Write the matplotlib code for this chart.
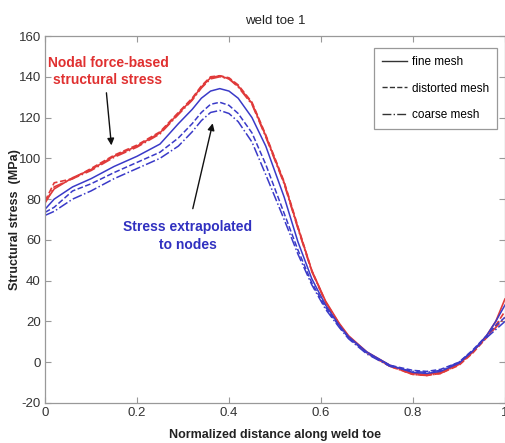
import matplotlib
matplotlib.use("Agg")
import matplotlib.pyplot as plt
from matplotlib.lines import Line2D

plt.rcParams['font.family'] = ['Liberation Sans', 'DejaVu Sans']
plt.rcParams['axes.unicode_minus'] = False

# normalized distance along weld toe
x = [0, 0.02, 0.06, 0.1, 0.15, 0.2, 0.25, 0.29, 0.32, 0.34, 0.36, 0.38, 0.4, 0.42,
     0.45, 0.48, 0.52, 0.55, 0.58, 0.61, 0.64, 0.66, 0.7, 0.75, 0.8, 0.83, 0.86,
     0.9, 0.93, 0.96, 0.98, 1.0]

# nodal force-based structural stress (MPa)
red_fine = [78.5, 85, 90.5, 94.5, 101, 106, 112.5, 122, 129, 135, 139.5, 140.5, 139, 135.5,
            127, 111, 88, 66, 45, 30, 19, 13, 5, -1.5, -5.5, -6, -5,
            -1, 5, 13, 20, 31]
red_distorted = [79, 88, 90, 95, 101.5, 106.5, 113, 122.5, 129.5, 135.5, 140, 140.5, 139.5, 136,
                 127.5, 111.5, 88.5, 66.5, 45, 29.5, 18.5, 12.5, 4.5, -2, -6, -6.5, -5.5,
                 -1.5, 4.5, 12, 18, 25]
red_coarse = [78, 86, 90, 94, 100.5, 105.5, 112, 121.5, 128.5, 134.5, 139, 140, 139, 135,
              126.5, 110.5, 87.5, 65.5, 44.5, 29.5, 18.5, 12.5, 4.5, -2, -6, -6.5, -5.5,
              -1, 5, 12.5, 17, 22]

# stress extrapolated to nodes (MPa)
blue_fine = [75, 80, 86, 90, 96, 101, 107, 117, 124, 129.5, 133, 134.2, 133, 129.5,
             120, 106, 81, 59, 41, 28, 18, 12.5, 5, -1.5, -5, -5.5, -4.5,
             -0.5, 5.5, 13, 20, 28]
blue_distorted = [73.5, 76, 84, 87.5, 93, 98, 103, 110, 117, 122.5, 126.5, 127.5, 126, 122,
                  112.5, 97, 73, 55, 39, 27, 17.5, 12, 4.5, -1.5, -4, -4.5, -3.5,
                  0, 6, 13, 18, 22]
blue_coarse = [72, 74, 80, 84, 90, 95, 100, 106, 113, 118.5, 122.5, 123.5, 122, 118,
               108, 92, 70, 53, 38, 26, 17, 11.5, 4, -2, -4.5, -5, -4,
               0, 5.5, 12, 16, 20]

legend_labels = ['fine mesh', 'distorted mesh', 'coarse mesh']
styles = ['-', '--', '-.']

red = '#e03a3a'
blue = '#3a3ac8'

fig = plt.figure(figsize=(5.06, 4.43), dpi=100)
ax = fig.add_axes([0.0889, 0.0903, 0.909, 0.8284])

for ys, ls in zip([red_fine, red_distorted, red_coarse], styles):
    ax.plot(x, ys, color=red, ls=ls, lw=1.2)
for ys, ls in zip([blue_fine, blue_distorted, blue_coarse], styles):
    ax.plot(x, ys, color=blue, ls=ls, lw=1.1)

ax.set_xlim(0, 1)
ax.set_ylim(-20, 160)
ax.set_xticks([0, 0.2, 0.4, 0.6, 0.8, 1])
ax.set_xticklabels(['0', '0.2', '0.4', '0.6', '0.8', '1'])
ax.set_yticks(range(-20, 161, 20))
ax.tick_params(direction='in', top=True, right=True, length=4, width=0.8,
               color='#999999', labelsize=9.5, labelcolor='#333333', pad=3)
for s in ax.spines.values():
    s.set_color('#999999')
    s.set_linewidth(0.9)

ax.set_title('weld toe 1', fontsize=9.5, color='#222222', pad=9)
ax.set_xlabel('Normalized distance along weld toe', fontsize=9, fontweight='bold',
              color='#222222', labelpad=7)
ax.set_ylabel('Structural stress  (MPa)', fontsize=9, fontweight='bold',
              color='#222222')
ax.yaxis.set_label_coords(-0.053, 0.5)

# annotations
ax.text(0.137, 142.5, 'Nodal force-based\nstructural stress', color='#e03030',
        fontsize=10, fontweight='bold', ha='center', va='center', linespacing=1.3)
ax.annotate('', xy=(0.145, 105), xytext=(0.133, 133.5),
            arrowprops=dict(arrowstyle='-|>', color='#111111', lw=1, mutation_scale=10))
ax.text(0.311, 62, 'Stress extrapolated\nto nodes', color='#3030c0',
        fontsize=10, fontweight='bold', ha='center', va='center', linespacing=1.35)
ax.annotate('', xy=(0.366, 118.5), xytext=(0.32, 74),
            arrowprops=dict(arrowstyle='-|>', color='#111111', lw=1, mutation_scale=10))

handles = [Line2D([], [], color='#333333', ls=ls, lw=1) for ls in styles]
leg = ax.legend(handles, legend_labels, loc='upper right', bbox_to_anchor=(0.983, 0.967),
                borderaxespad=0, fancybox=False, fontsize=8.5, handlelength=2.1,
                labelspacing=1.2, handletextpad=0.4, borderpad=0.7, framealpha=1)
leg.get_frame().set_edgecolor('#999999')
leg.get_frame().set_linewidth(0.9)

fig.savefig('out.png', dpi=100)
